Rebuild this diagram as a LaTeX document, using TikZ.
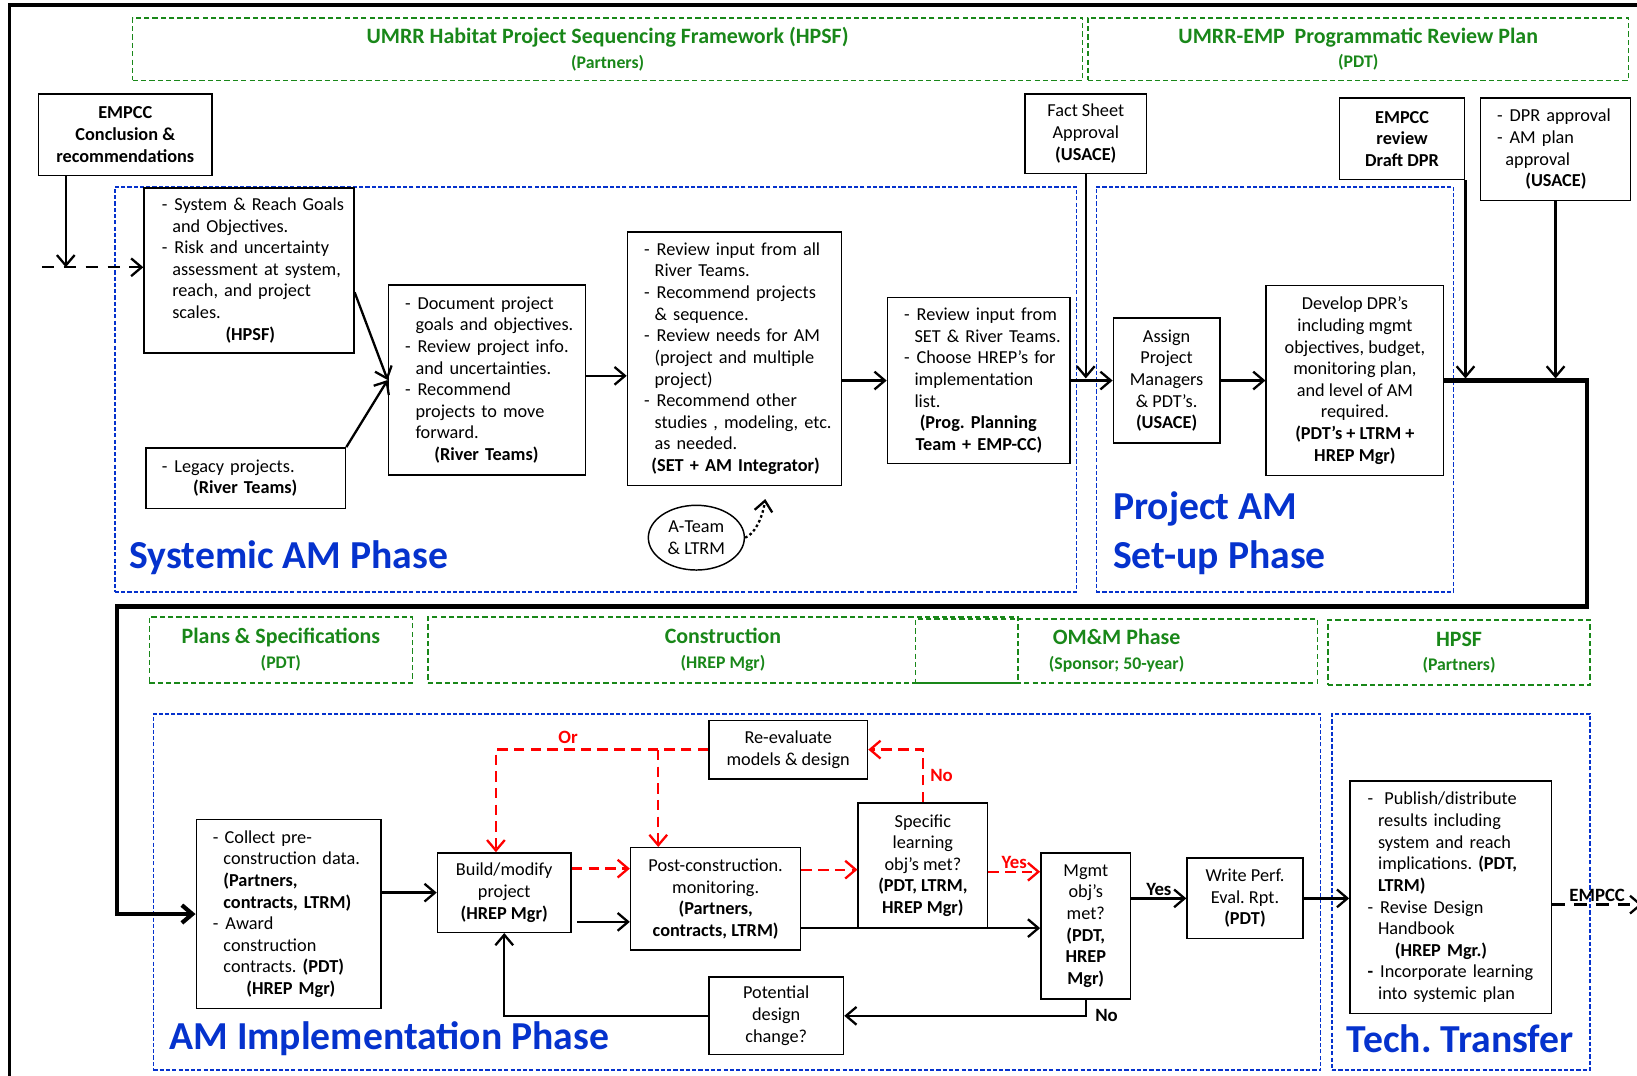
\documentclass[tikz,border=0pt]{standalone}
\usepackage{fontspec}
\setmainfont{Carlito}
\usetikzlibrary{positioning,arrows.meta,shapes.geometric}
\frenchspacing

\definecolor{leadgreen}{RGB}{25,135,25}
\definecolor{phaseblue}{RGB}{5,50,205}
\definecolor{loopred}{RGB}{255,0,0}

\newcommand{\txt}{\fontsize{17.5}{20.7}\selectfont}
\newcommand{\bul}{\makebox[12pt][l]{-}}
\newcommand{\ind}{\hspace*{10pt}}
\newcommand{\lm}[1]{\leftskip=#1pt\relax}

\tikzset{
->,
>={Straight Barb[length=10pt,width=17pt]},
every node/.style={font=\txt},
box/.style={draw, line width=1.4pt, align=center, inner sep=3pt},
list/.style={box, align=left},
lead/.style={draw=leadgreen, line width=1.5pt, dash pattern=on 5pt off 3pt, align=center,
  text=leadgreen, font=\bfseries\fontsize{21}{23.5}\selectfont},
phase/.style={draw=phaseblue, line width=1.3pt, dash pattern=on 4pt off 2pt},
phasetitle/.style={text=phaseblue, font=\bfseries\fontsize{38}{38}\selectfont, anchor=base west, inner sep=0pt},
flow/.style={line width=2.2pt},
route/.style={line width=4pt},
retry/.style={loopred, line width=2.2pt, dash pattern=on 10pt off 6pt},
lab/.style={font=\bfseries\fontsize{18}{20}\selectfont, inner sep=2pt},
}

\begin{document}
\begin{tikzpicture}[x=1pt, y=-1pt]
\useasboundingbox (0,0) rectangle (1568,1030);
\draw[-, line width=3.5pt] (9,1040) -- (9,5) -- (1580,5);

% headers
\node[lead, minimum width=910pt, minimum height=60pt] (hpsf) at (582,47)
  {UMRR Habitat Project Sequencing Framework (HPSF)\\{\fontsize{17}{23.5}\selectfont(Partners)}};
\node[lead, minimum width=518pt, minimum height=60pt] (prp) at (1301,47)
  {UMRR-EMP\ \ Programmatic Review Plan\\{\fontsize{17}{23.5}\selectfont(PDT)}};
\node[lead, minimum width=252pt, minimum height=63pt] (plans) at (269,622.5)
  {Plans \& Specifications\\{\fontsize{17}{23.5}\selectfont(PDT)}};
\node[lead, minimum width=565pt, minimum height=63pt] (constr) at (692.5,622.5)
  {Construction\\{\fontsize{17}{23.5}\selectfont(HREP Mgr)}};
\node[lead, minimum width=385pt, minimum height=61pt] (omm) at (1069.5,623.5)
  {OM\&M Phase\\{\fontsize{17}{23.5}\selectfont(Sponsor; 50-year)}};
\node[lead, minimum width=251pt, minimum height=62pt] (hpsf2) at (1397.5,625)
  {HPSF\\{\fontsize{17}{23.5}\selectfont(Partners)}};

% phases
\node[phase, minimum width=921pt, minimum height=388pt] (sysphase) at (570.5,373) {};
\node[phase, minimum width=342pt, minimum height=388pt] (setphase) at (1221,373) {};
\node[phase, minimum width=1118pt, minimum height=341pt] (implphase) at (706,854.5) {};
\node[phase, minimum width=247pt, minimum height=341pt] (techphase) at (1399.5,854.5) {};

\node[phasetitle] (systitle) at (124,545) {Systemic AM Phase};
\node[phasetitle] (settitle) at (1066,498) {Project AM};
\node[phasetitle] (settitle2) at (1066,545) {Set-up Phase};
\node[phasetitle] (impltitle) at (162,1005) {AM Implementation Phase};
\node[phasetitle] (techtitle) at (1290,1008) {Tech. Transfer};

% top boxes
\node[box, font=\bfseries\txt, minimum width=166pt, minimum height=78pt] (empcc) at (120,129)
  {EMPCC\\Conclusion \&\\recommendations};
\node[box, minimum width=116pt, minimum height=76pt] (fact) at (1040,128)
  {Fact Sheet\\Approval\\\textbf{(USACE)}};
\node[box, font=\bfseries\txt, minimum width=120pt, minimum height=78pt] (draft) at (1343,133)
  {EMPCC\\review\\Draft DPR};
\node[list, text width=138pt, minimum width=144pt, minimum height=98pt] (approve) at (1490,143)
  {\lm{13}\bul DPR approval\\\bul AM plan\\\hspace*{8pt}approval\\\hspace*{27pt}\textbf{(USACE)}\par};

% systemic phase
\node[list, text width=195pt, minimum width=201pt, minimum height=158pt] (goals) at (238.5,259)
  {\lm{14}\bul System \& Reach Goals\\\ind and Objectives.\\\bul Risk and uncertainty\\\ind assessment at system,\\\ind reach, and project\\\ind scales.\\\hspace*{61pt}\textbf{(HPSF)}\par};
\node[list, text width=185pt, minimum width=191pt, minimum height=58pt] (legacy) at (235.5,458)
  {\lm{12}\bul Legacy projects.\\\hspace*{30pt}\textbf{(River Teams)}\par};
\node[list, text width=183pt, minimum width=189pt, minimum height=182pt] (docs) at (466.5,364)
  {\lm{13}\bul Document project\\\ind goals and objectives.\\\bul Review project info.\\\ind and uncertainties.\\\bul Recommend\\\ind projects to move\\\ind forward.\\\hspace*{28pt}\textbf{(River Teams)}\par};
\node[list, text width=199pt, minimum width=205pt, minimum height=243pt] (review) at (703.5,343.5)
  {\lm{13}\bul Review input from all\\\ind River Teams.\\\bul Recommend projects\\\ind \& sequence.\\\bul Review needs for AM\\\ind (project and multiple\\\ind project)\\\bul Recommend other\\\ind studies , modeling, etc.\\\ind as needed.\\\hspace*{7pt}\textbf{(SET + AM Integrator)}\par};
\node[list, text width=169pt, minimum width=175pt, minimum height=159pt] (choose) at (937.5,364.5)
  {\lm{13}\bul Review input from\\\ind SET \& River Teams.\\\bul Choose HREP’s for\\\ind implementation\\\ind list.\\\hspace*{15pt}\textbf{(Prog. Planning}\\\hspace*{11pt}\textbf{Team + EMP-CC)}\par};
\node[draw, ellipse, line width=1.4pt, align=center, minimum width=92pt, minimum height=62pt, inner sep=1pt] (ateam) at (667,515)
  {A-Team\\\& LTRM};

% set-up phase
\node[box, right=40pt of choose, minimum width=102pt, minimum height=120pt] (assign)
  {Assign\\Project\\Managers\\\& PDT’s.\\\textbf{(USACE)}};
\node[box, right=43pt of assign, minimum width=170pt, minimum height=182pt] (dpr)
  {Develop DPR’s\\including mgmt\\objectives, budget,\\monitoring plan,\\and level of AM\\required.\\\textbf{(PDT’s + LTRM +}\\\textbf{HREP Mgr)}};

% implementation phase
\node[list, text width=171pt, minimum width=177pt, minimum height=181pt] (collect) at (276.5,875.5)
  {\lm{13}- Collect pre-\\\ind construction data.\\\ind\textbf{(Partners,}\\\ind\textbf{contracts, LTRM)}\\\bul Award\\\ind construction\\\ind contracts. \textbf{(PDT)}\\\hspace*{32pt}\textbf{(HREP Mgr)}\par};
\node[box, minimum width=128pt, minimum height=76pt] (build) at (483,855)
  {Build/modify\\project\\\textbf{(HREP Mgr)}};
\node[box, minimum width=163pt, minimum height=98pt] (post) at (685.5,861)
  {Post-construction.\\monitoring.\\\textbf{(Partners,}\\\textbf{contracts, LTRM)}};
\node[box, minimum width=152pt, minimum height=56pt] (reeval) at (755,718)
  {Re-evaluate\\models \& design};
\node[box, minimum width=124pt, minimum height=120pt] (specific) at (884,829)
  {Specific\\learning\\obj’s met?\\\textbf{(PDT, LTRM,}\\\textbf{HREP Mgr)}};
\node[box, minimum width=86pt, minimum height=140pt] (mgmt) at (1040,887)
  {Mgmt\\obj’s\\met?\\\textbf{(PDT,}\\\textbf{HREP}\\\textbf{Mgr)}};
\node[box, minimum width=111pt, minimum height=77pt] (perf) at (1192.5,860.5)
  {Write Perf.\\Eval. Rpt.\\\textbf{(PDT)}};
\node[box, minimum width=129pt, minimum height=74pt] (design) at (743.5,973)
  {Potential\\design\\change?};
\node[list, text width=187pt, minimum width=193pt, minimum height=223pt] (publish) at (1389.5,859.5)
  {\lm{14}\bul\hspace{4pt}Publish/distribute\\\ind results including\\\ind system and reach\\\ind implications. \textbf{(PDT,}\\\ind\textbf{LTRM)}\\\bul Revise Design\\\ind Handbook\\\hspace*{26pt}\textbf{(HREP Mgr.)}\\\textbf{\bul}Incorporate learning\\\ind into systemic plan\par};

\coordinate (entry) at (40,256);
\coordinate (entryhit) at (63,256);
\coordinate (r1) at (1520,581);
\coordinate (l1) at (112,581);
\coordinate (ateamtip) at (733,478);
\coordinate (exit) at (1573,867);

% connectors, top
\draw[flow] (empcc.south -| entryhit) -- (entryhit);
\draw[flow, dash pattern=on 12pt off 9pt] (entry) -- (entry -| goals.west);
\draw[flow] ([yshift=-21pt]goals.east) -- (docs.west);
\draw[flow] (legacy.north east) -- (docs.west);
\draw[flow] ([yshift=4pt]docs.east) -- ([yshift=4pt]docs.east -| review.west);
\draw[flow] (choose.west -| review.east) -- (choose.west);
\draw (choose) edge[flow] (assign);
\draw (assign) edge[flow] (dpr);
\draw[flow] (fact.south) -- ([yshift=2pt]fact.south |- assign.west);
\draw[flow] (draft.south east) -- ([yshift=2pt]draft.south east |- dpr.east);
\draw[flow] (approve.south) -- ([yshift=2pt]approve.south |- dpr.east);
\draw[route] (dpr.east) -| (r1) -- (l1) |- (collect.west);
\draw[flow, dash pattern=on 2.5pt off 2.5pt] (ateam.east) .. controls (722,512) and (730,498) .. (ateamtip);

% connectors, bottom
\draw[flow] (collect.east |- build.west) -- (build.west);
\draw[flow] ([xshift=5pt,yshift=-28pt]build.east) -- ([yshift=-28pt]build.east -| post.west);
\draw[retry] ([yshift=23pt]build.east) -- ([yshift=23pt]build.east -| post.west);
\draw[retry] ([yshift=28pt]post.east) -- ([yshift=28pt]post.east -| specific.west);
\draw[flow] ([yshift=-28pt]post.east) -- ([yshift=-28pt]post.east -| mgmt.west);
\draw[retry] ([yshift=-6pt]specific.east) -- node[lab, above, text=loopred]{Yes} ([yshift=-6pt]specific.east -| mgmt.west);
\draw[retry] (specific.north) |- node[lab, pos=0.25, right=4pt, text=loopred]{No} (reeval.east);
\draw[retry] (reeval.west) -| node[lab, pos=0.33, above=3pt, text=loopred]{Or} ([xshift=-8pt]build.north);
\draw[retry] (reeval.west) -| ([xshift=-55pt]post.north);
\draw[flow] (mgmt.east |- perf.west) -- node[lab, above]{Yes} (perf.west);
\draw[flow] (mgmt.south) |- node[lab, pos=0.5, right=6pt]{No} (design.east);
\draw[flow] (design.west) -| (build.south);
\draw[flow] (perf.east) -- (perf.east -| publish.west);
\draw[flow, dash pattern=on 12pt off 9pt] ([yshift=-7pt]publish.east) -- node[lab, above]{EMPCC} ([yshift=-7pt]publish.east -| exit);

\end{tikzpicture}
\end{document}
